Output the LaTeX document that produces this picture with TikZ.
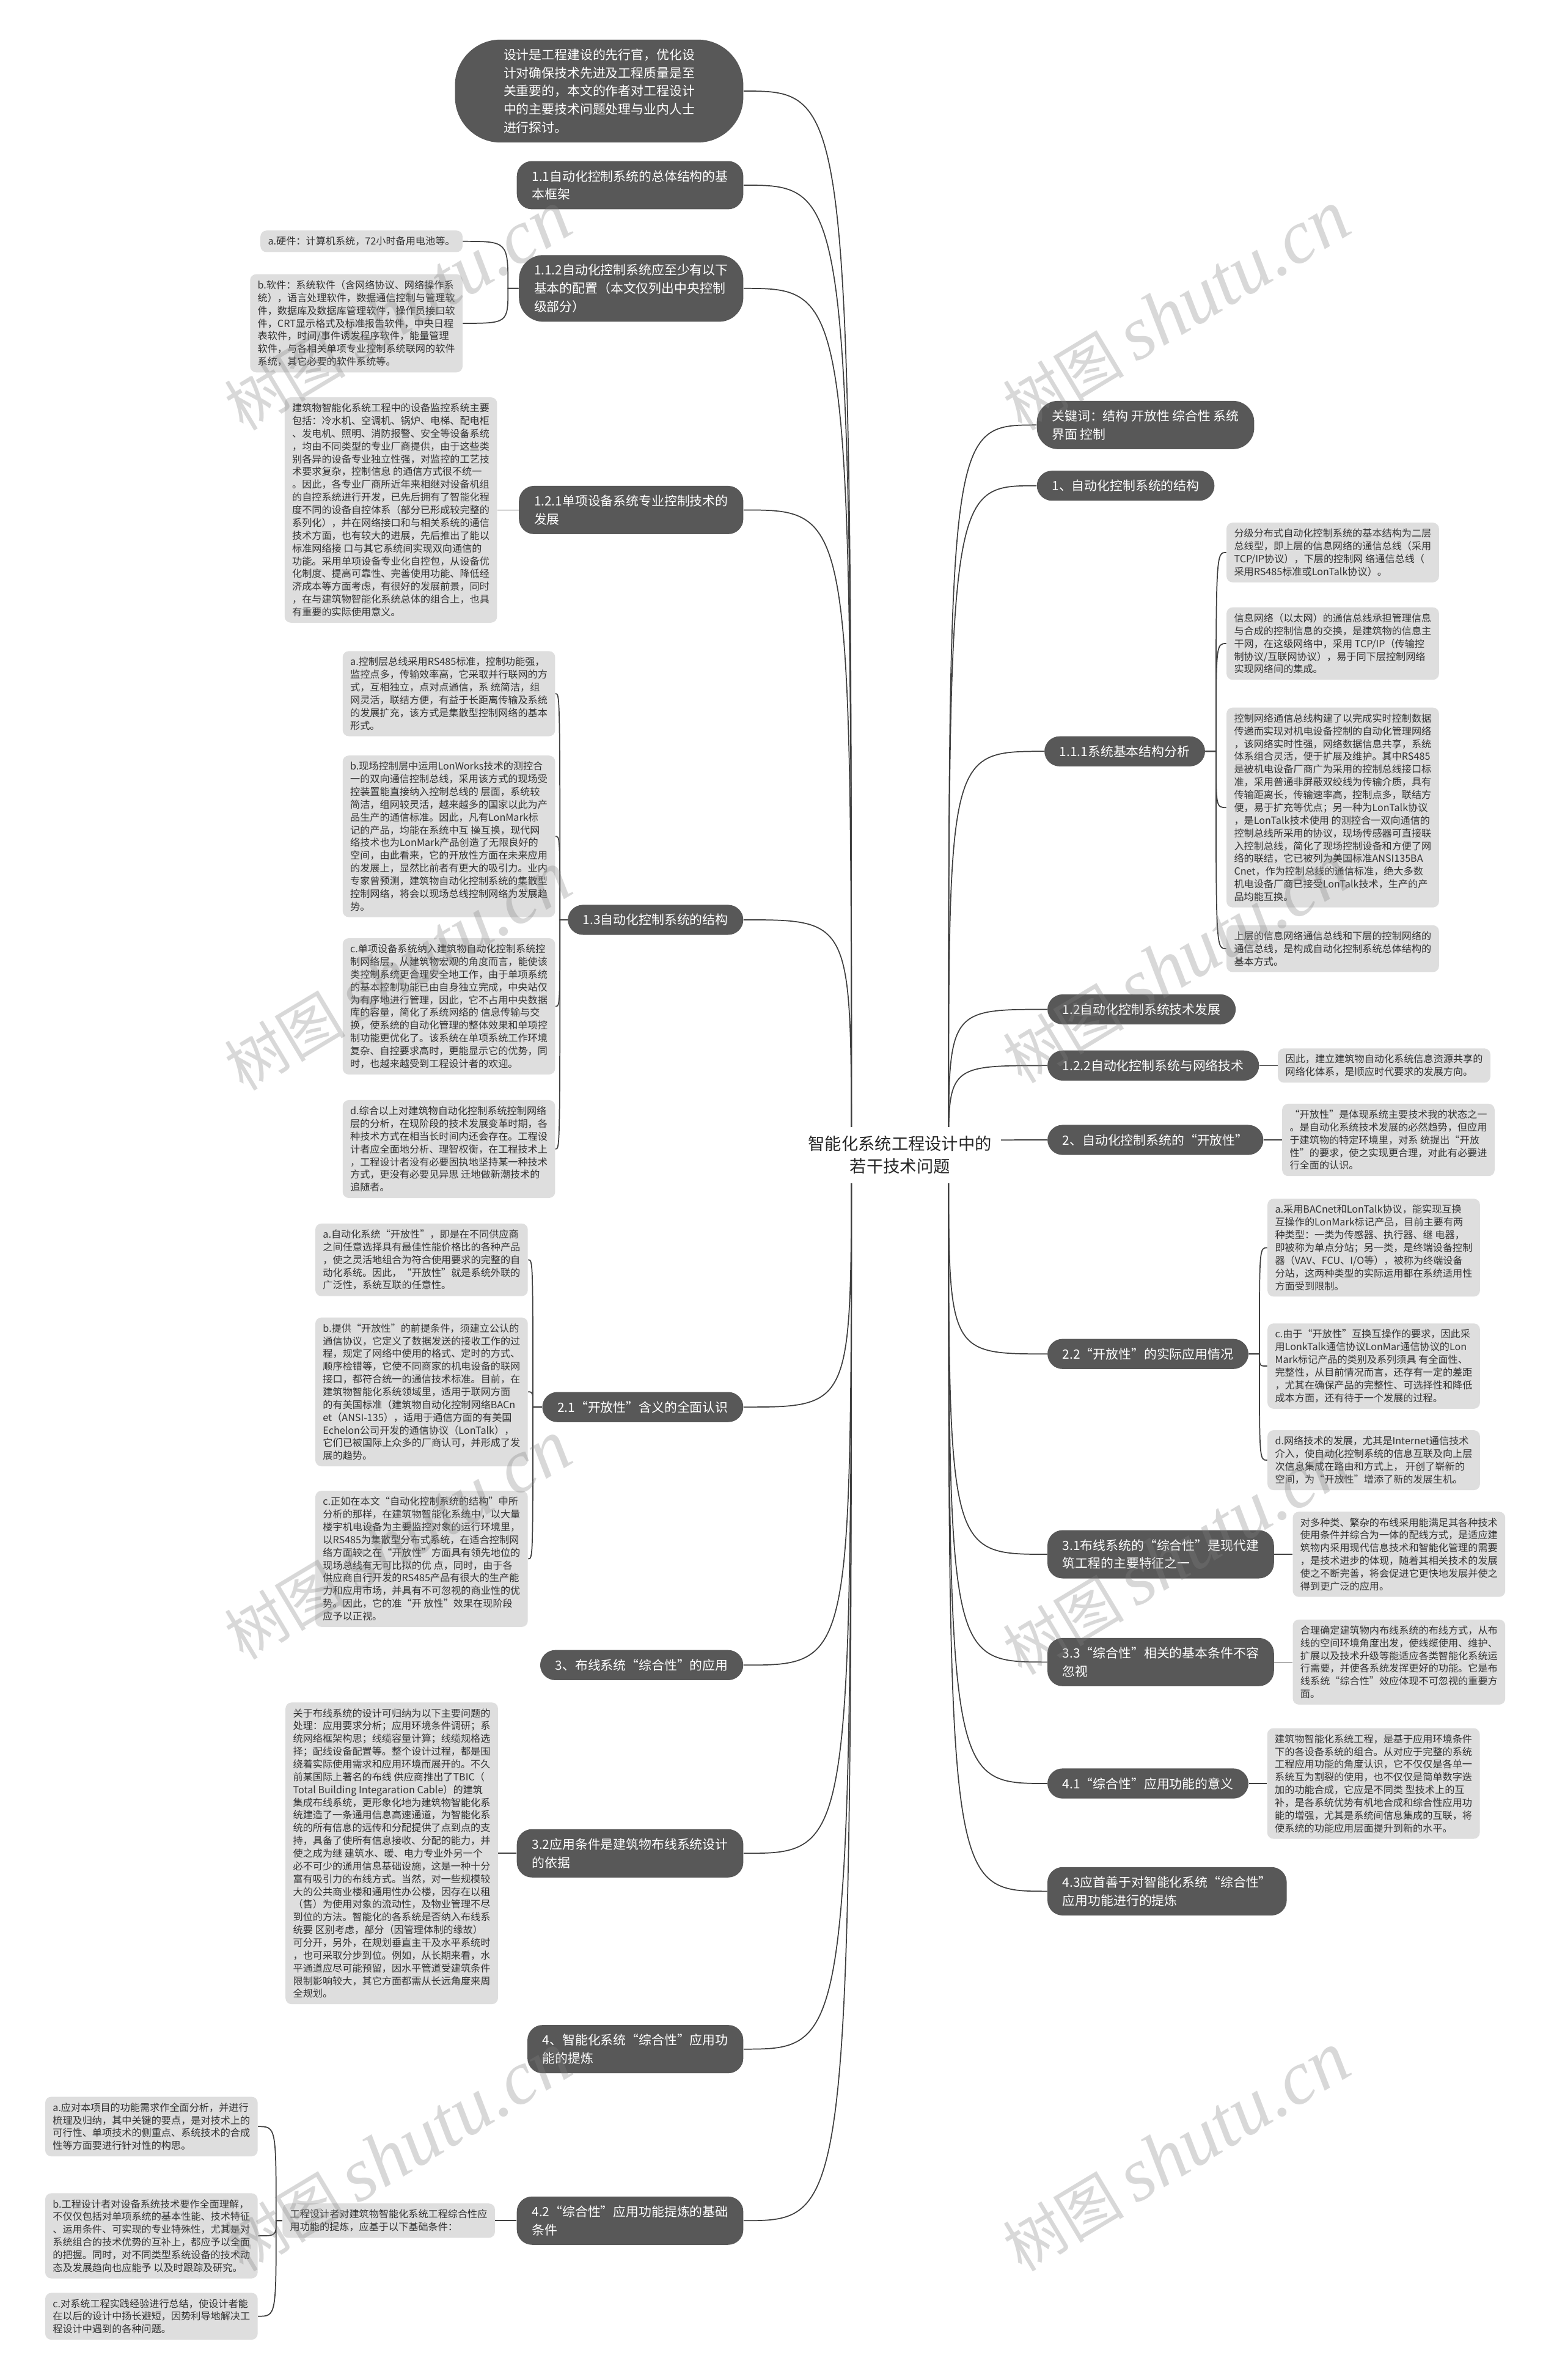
\documentclass[tikz,border=0pt]{standalone}
\usepackage{fontspec}
\setmainfont{Noto Sans CJK SC}
\newfontfamily\wmserif{Liberation Serif}
\usetikzlibrary{positioning,backgrounds}

\definecolor{mainfill}{RGB}{88,88,88}
\definecolor{leaffill}{RGB}{222,222,222}
\definecolor{leaftext}{RGB}{51,51,51}
\definecolor{conncol}{RGB}{64,64,64}

\tikzset{
  rootbox/.style={fill=white, text=black!85, align=center, inner sep=6pt,
    font=\fontsize{11pt}{15pt}\selectfont},
  mainbox/.style={fill=mainfill, text=white, rounded corners=10pt, inner xsep=10pt,
    inner ysep=6pt, align=left, font=\fontsize{8.4pt}{12pt}\selectfont},
  leafbox/.style={fill=leaffill, text=leaftext, rounded corners=4pt, inner xsep=5pt,
    inner ysep=4pt, align=left, font=\fontsize{6.5pt}{8.4pt}\selectfont},
  conn/.style={draw=conncol, line width=0.7pt},
  wmark/.style={text=gray, opacity=0.3, rotate=31}
}

\begin{document}
\begin{tikzpicture}[x=1pt, y=-1pt]
  \path[use as bounding box] (0,0) rectangle (1031,1568);

  % centre
  \node[rootbox] (root) at (593,761) {智能化系统工程设计中的\\若干技术问题};
  \coordinate (rl) at ([xshift=-32pt]root.center);
  \coordinate (rr) at ([xshift=32pt]root.center);

  % left main branches
  \node[mainbox, anchor=east, inner xsep=32pt, rounded corners=30pt] (intro) at (490,60)
    {设计是工程建设的先行官，优化设\\计对确保技术先进及工程质量是至\\关重要的，本文的作者对工程设计\\中的主要技术问题处理与业内人士\\进行探讨。};
  \node[mainbox, anchor=east] (n11) at (490,122) {1.1自动化控制系统的总体结构的基\\本框架};
  \node[mainbox, anchor=east, rounded corners=16pt] (n112) at (490,190)
    {1.1.2自动化控制系统应至少有以下\\基本的配置（本文仅列出中央控制\\级部分）};
  \node[mainbox, anchor=east] (n121) at (490,336) {1.2.1单项设备系统专业控制技术的\\发展};
  \node[mainbox, anchor=east] (n13) at (490,606) {1.3自动化控制系统的结构};
  \node[mainbox, anchor=east] (n21) at (490,927) {2.1“开放性”含义的全面认识};
  \node[mainbox, anchor=east] (n3) at (490,1097) {3、布线系统“综合性”的应用};
  \node[mainbox, anchor=east] (n32) at (490,1221) {3.2应用条件是建筑物布线系统设计\\的依据};
  \node[mainbox, anchor=east] (n4) at (490,1350) {4、智能化系统“综合性”应用功\\能的提炼};
  \node[mainbox, anchor=east] (n42) at (490,1463) {4.2“综合性”应用功能提炼的基础\\条件};

  % right main branches
  \node[mainbox, anchor=west, rounded corners=14pt] (kw) at (683,280) {关键词：结构 开放性 综合性 系统\\界面 控制};
  \node[mainbox, anchor=west] (n1) at (683,320) {1、自动化控制系统的结构};
  \node[mainbox, anchor=west] (n111) at (688,495) {1.1.1系统基本结构分析};
  \node[mainbox, anchor=west] (n12) at (690,665) {1.2自动化控制系统技术发展};
  \node[mainbox, anchor=west] (n122) at (690,702) {1.2.2自动化控制系统与网络技术};
  \node[mainbox, anchor=west] (n2) at (690,751) {2、自动化控制系统的“开放性”};
  \node[mainbox, anchor=west] (n22) at (690,892) {2.2“开放性”的实际应用情况};
  \node[mainbox, anchor=west] (n31) at (690,1024) {3.1布线系统的“综合性”是现代建\\筑工程的主要特征之一};
  \node[mainbox, anchor=west] (n33) at (690,1095) {3.3“综合性”相关的基本条件不容\\忽视};
  \node[mainbox, anchor=west] (n41) at (690,1175) {4.1“综合性”应用功能的意义};
  \node[mainbox, anchor=west] (n43) at (690,1246) {4.3应首善于对智能化系统“综合性”\\应用功能进行的提炼};

  % leaves of 1.1.2
  \node[leafbox, anchor=east] (l112a) at (305,159) {a.硬件：计算机系统，72小时备用电池等。};
  \node[leafbox, anchor=east] (l112b) at (305,213)
    {b.软件：系统软件（含网络协议、网络操作系\\统），语言处理软件，数据通信控制与管理软\\件，数据库及数据库管理软件，操作员接口软\\件，CRT显示格式及标准报告软件，中央日程\\表软件，时间/事件诱发程序软件，能量管理\\软件，与各相关单项专业控制系统联网的软件\\系统，其它必要的软件系统等。};

  % leaf of 1.2.1
  \node[leafbox, left=14pt of n121] (l121)
    {建筑物智能化系统工程中的设备监控系统主要\\包括：冷水机、空调机、锅炉、电梯、配电柜\\、发电机、照明、消防报警、安全等设备系统\\，均由不同类型的专业厂商提供，由于这些类\\别各异的设备专业独立性强，对监控的工艺技\\术要求复杂，控制信息 的通信方式很不统一\\。因此，各专业厂商所近年来相继对设备机组\\的自控系统进行开发，已先后拥有了智能化程\\度不同的设备自控体系（部分已形成较完整的\\系列化），并在网络接口和与相关系统的通信\\技术方面，也有较大的进展，先后推出了能以\\标准网络接 口与其它系统间实现双向通信的\\功能。采用单项设备专业化自控包，从设备优\\化制度、提高可靠性、完善使用功能、降低经\\济成本等方面考虑，有很好的发展前景，同时\\，在与建筑物智能化系统总体的组合上，也具\\有重要的实际使用意义。};

  % leaves of 1.3
  \node[leafbox, anchor=east] (l13a) at (366,457)
    {a.控制层总线采用RS485标准，控制功能强，\\监控点多，传输效率高，它采取并行联网的方\\式，互相独立，点对点通信，系 统简洁，组\\网灵活，联结方便，有益于长距离传输及系统\\的发展扩充，该方式是集散型控制网络的基本\\形式。};
  \node[leafbox, anchor=east] (l13b) at (366,551)
    {b.现场控制层中运用LonWorks技术的测控合\\一的双向通信控制总线，采用该方式的现场受\\控装置能直接纳入控制总线的 层面，系统较\\简洁，组网较灵活，越来越多的国家以此为产\\品生产的通信标准。因此，凡有LonMark标\\记的产品，均能在系统中互 操互换，现代网\\络技术也为LonMark产品创造了无限良好的\\空间，由此看来，它的开放性方面在未来应用\\的发展上，显然比前者有更大的吸引力。业内\\专家曾预测，建筑物自动化控制系统的集散型\\控制网络，将会以现场总线控制网络为发展趋\\势。};
  \node[leafbox, anchor=east] (l13c) at (366,663)
    {c.单项设备系统纳入建筑物自动化控制系统控\\制网络层，从建筑物宏观的角度而言，能使该\\类控制系统更合理安全地工作，由于单项系统\\的基本控制功能已由自身独立完成，中央站仅\\为有序地进行管理，因此，它不占用中央数据\\库的容量，简化了系统网络的 信息传输与交\\换，使系统的自动化管理的整体效果和单项控\\制功能更优化了。该系统在单项系统工作环境\\复杂、自控要求高时，更能显示它的优势，同\\时，也越来越受到工程设计者的欢迎。};
  \node[leafbox, anchor=east] (l13d) at (366,757)
    {d.综合以上对建筑物自动化控制系统控制网络\\层的分析，在现阶段的技术发展变革时期，各\\种技术方式在相当长时间内还会存在。工程设\\计者应全面地分析、理智权衡，在工程技术上\\，工程设计者没有必要固执地坚持某一种技术\\方式，更没有必要见异思 迁地做新潮技术的\\追随者。};

  % leaves of 2.1
  \node[leafbox, anchor=east] (l21a) at (348,830)
    {a.自动化系统“开放性”，即是在不同供应商\\之间任意选择具有最佳性能价格比的各种产品\\，使之灵活地组合为符合使用要求的完整的自\\动化系统。因此，“开放性”就是系统外联的\\广泛性，系统互联的任意性。};
  \node[leafbox, anchor=east] (l21b) at (348,917)
    {b.提供“开放性”的前提条件，须建立公认的\\通信协议，它定义了数据发送的接收工作的过\\程，规定了网络中使用的格式、定时的方式、\\顺序检错等，它使不同商家的机电设备的联网\\接口，都符合统一的通信技术标准。目前，在\\建筑物智能化系统领域里，适用于联网方面\\的有美国标准（建筑物自动化控制网络BACn\\et（ANSI-135），适用于通信方面的有美国\\Echelon公司开发的通信协议（LonTalk），\\它们已被国际上众多的厂商认可，并形成了发\\展的趋势。};
  \node[leafbox, anchor=east] (l21c) at (348,1027)
    {c.正如在本文“自动化控制系统的结构”中所\\分析的那样，在建筑物智能化系统中，以大量\\楼宇机电设备为主要监控对象的运行环境里，\\以RS485为集散型分布式系统，在适合控制网\\络方面较之在“开放性”方面具有领先地位的\\现场总线有无可比拟的优 点，同时，由于各\\供应商自行开发的RS485产品有很大的生产能\\力和应用市场，并具有不可忽视的商业性的优\\势。因此，它的准“开 放性”效果在现阶段\\应予以正视。};

  % leaf of 3.2
  \node[leafbox, left=12pt of n32] (l32)
    {关于布线系统的设计可归纳为以下主要问题的\\处理：应用要求分析；应用环境条件调研；系\\统网络框架构思；线缆容量计算；线缆规格选\\择；配线设备配置等。整个设计过程，都是围\\绕着实际使用需求和应用环境而展开的。不久\\前某国际上著名的布线 供应商推出了TBIC（\\Total Building Integaration Cable）的建筑\\集成布线系统，更形象化地为建筑物智能化系\\统建造了一条通用信息高速通道，为智能化系\\统的所有信息的远传和分配提供了点到点的支\\持，具备了使所有信息接收、分配的能力，并\\使之成为继 建筑水、暖、电力专业外另一个\\必不可少的通用信息基础设施，这是一种十分\\富有吸引力的布线方式。当然，对一些规模较\\大的公共商业楼和通用性办公楼，因存在以租\\（售）为使用对象的流动性，及物业管理不尽\\到位的方法。智能化的各系统是否纳入布线系\\统要 区别考虑，部分（因管理体制的缘故）\\可分开，另外，在规划垂直主干及水平系统时\\，也可采取分步到位。例如，从长期来看，水\\平通道应尽可能预留，因水平管道受建筑条件\\限制影响较大，其它方面都需从长远角度来周\\全规划。};

  % leaves of 4.2
  \node[leafbox, left=14pt of n42] (l42)
    {工程设计者对建筑物智能化系统工程综合性应\\用功能的提炼，应基于以下基础条件：};
  \node[leafbox, anchor=east] (l42a) at (170,1401)
    {a.应对本项目的功能需求作全面分析，并进行\\梳理及归纳，其中关键的要点，是对技术上的\\可行性、单项技术的侧重点、系统技术的合成\\性等方面要进行针对性的构思。};
  \node[leafbox, anchor=east] (l42b) at (170,1473)
    {b.工程设计者对设备系统技术要作全面理解，\\不仅仅包括对单项系统的基本性能、技术特征\\、运用条件、可实现的专业特殊性，尤其是对\\系统组合的技术优势的互补上，都应予以全面\\的把握。同时，对不同类型系统设备的技术动\\态及发展趋向也应能予 以及时跟踪及研究。};
  \node[leafbox, anchor=east] (l42c) at (170,1526)
    {c.对系统工程实践经验进行总结，使设计者能\\在以后的设计中扬长避短，因势利导地解决工\\程设计中遇到的各种问题。};

  % leaves of 1.1.1
  \node[leafbox, anchor=west] (l111a) at (808,364)
    {分级分布式自动化控制系统的基本结构为二层\\总线型，即上层的信息网络的通信总线（采用\\TCP/IP协议），下层的控制网 络通信总线（\\采用RS485标准或LonTalk协议）。};
  \node[leafbox, anchor=west] (l111b) at (808,424)
    {信息网络（以太网）的通信总线承担管理信息\\与合成的控制信息的交换，是建筑物的信息主\\干网，在这级网络中，采用 TCP/IP（传输控\\制协议/互联网协议），易于同下层控制网络\\实现网络间的集成。};
  \node[leafbox, anchor=west] (l111c) at (808,532)
    {控制网络通信总线构建了以完成实时控制数据\\传递而实现对机电设备控制的自动化管理网络\\，该网络实时性强，网络数据信息共享，系统\\体系组合灵活，便于扩展及维护。其中RS485\\是被机电设备厂商广为采用的控制总线接口标\\准，采用普通非屏蔽双绞线为传输介质，具有\\传输距离长，传输速率高，控制点多，联结方\\便，易于扩充等优点；另一种为LonTalk协议\\，是LonTalk技术使用 的测控合一双向通信的\\控制总线所采用的协议，现场传感器可直接联\\入控制总线，简化了现场控制设备和方便了网\\络的联结，它已被列为美国标准ANSI135BA\\Cnet，作为控制总线的通信标准，绝大多数\\机电设备厂商已接受LonTalk技术，生产的产\\品均能互换。};
  \node[leafbox, anchor=west] (l111d) at (808,625)
    {上层的信息网络通信总线和下层的控制网络的\\通信总线，是构成自动化控制系统总体结构的\\基本方式。};

  % single leaves on the right
  \node[leafbox, right=12pt of n122] (l122)
    {因此，建立建筑物自动化系统信息资源共享的\\网络化体系，是顺应时代要求的发展方向。};
  \node[leafbox, right=12pt of n2] (l2)
    {“开放性”是体现系统主要技术我的状态之一\\。是自动化系统技术发展的必然趋势，但应用\\于建筑物的特定环境里，对系 统提出“开放\\性”的要求，使之实现更合理，对此有必要进\\行全面的认识。};

  % leaves of 2.2
  \node[leafbox, anchor=west] (l22a) at (835,822)
    {a.采用BACnet和LonTalk协议，能实现互换\\互操作的LonMark标记产品，目前主要有两\\种类型：一类为传感器、执行器、继 电器，\\即被称为单点分站；另一类，是终端设备控制\\器（VAV、FCU、I/O等），被称为终端设备\\分站，这两种类型的实际运用都在系统适用性\\方面受到限制。};
  \node[leafbox, anchor=west] (l22c) at (835,900)
    {c.由于“开放性”互换互操作的要求，因此采\\用LonkTalk通信协议LonMar通信协议的Lon\\Mark标记产品的类别及系列须具 有全面性、\\完整性，从目前情况而言，还存有一定的差距\\，尤其在确保产品的完整性、可选择性和降低\\成本方面，还有待于一个发展的过程。};
  \node[leafbox, anchor=west] (l22d) at (835,962)
    {d.网络技术的发展，尤其是Internet通信技术\\介入，使自动化控制系统的信息互联及向上层\\次信息集成在路由和方式上， 开创了崭新的\\空间，为“开放性”增添了新的发展生机。};

  \node[leafbox, right=12pt of n31] (l31)
    {对多种类、繁杂的布线采用能满足其各种技术\\使用条件并综合为一体的配线方式，是适应建\\筑物内采用现代信息技术和智能化管理的需要\\，是技术进步的体现，随着其相关技术的发展\\使之不断完善，将会促进它更快地发展并使之\\得到更广泛的应用。};
  \node[leafbox, right=12pt of n33] (l33)
    {合理确定建筑物内布线系统的布线方式，从布\\线的空间环境角度出发，使线缆使用、维护、\\扩展以及技术升级等能适应各类智能化系统运\\行需要，并使各系统发挥更好的功能。它是布\\线系统“综合性”效应体现不可忽视的重要方\\面。};
  \node[leafbox, right=12pt of n41] (l41)
    {建筑物智能化系统工程，是基于应用环境条件\\下的各设备系统的组合。从对应于完整的系统\\工程应用功能的角度认识，它不仅仅是各单一\\系统互为割裂的使用，也不仅仅是简单数字迭\\加的功能合成，它应是不同类 型技术上的互\\补，是各系统优势有机地合成和综合性应用功\\能的增强，尤其是系统间信息集成的互联，将\\使系统的功能应用层面提升到新的水平。};

  % brace joints
  \coordinate (j112) at ([xshift=-7pt]n112.west);
  \coordinate (j13) at ([xshift=-5pt]n13.west);
  \coordinate (j21) at ([xshift=-6pt]n21.west);
  \coordinate (j42) at ([xshift=-4pt]l42.west);
  \coordinate (j111) at ([xshift=7pt]n111.east);
  \coordinate (j22) at ([xshift=7pt]n22.east);

  % connectors
  \begin{scope}[on background layer]
    \fill[white] (0,0) rectangle (1031,1568);
    \foreach \n in {intro,n11,n112,n121,n13,n21,n3,n32,n4,n42}
      \draw[conn] (rl) .. controls (rl |- \n.east) .. (\n.east);
    \foreach \n in {kw,n1,n111,n12,n122,n2,n22,n31,n33,n41,n43}
      \draw[conn] (rr) .. controls (rr |- \n.west) .. (\n.west);
    \foreach \l in {l112a,l112b}
      \draw[conn] (n112.west) -- (j112) .. controls (j112 |- \l.east) .. (\l.east);
    \foreach \l in {l13a,l13b,l13c,l13d}
      \draw[conn] (n13.west) -- (j13) .. controls (j13 |- \l.east) .. (\l.east);
    \foreach \l in {l21a,l21b,l21c}
      \draw[conn] (n21.west) -- (j21) .. controls (j21 |- \l.east) .. (\l.east);
    \foreach \l in {l42a,l42b,l42c}
      \draw[conn] (l42.west) -- (j42) .. controls (j42 |- \l.east) .. (\l.east);
    \foreach \l in {l111a,l111b,l111c,l111d}
      \draw[conn] (n111.east) -- (j111) .. controls (j111 |- \l.west) .. (\l.west);
    \foreach \l in {l22a,l22c,l22d}
      \draw[conn] (n22.east) -- (j22) .. controls (j22 |- \l.west) .. (\l.west);
    \draw[conn] (n121.west) -- (l121.east);
    \draw[conn] (n32.west) -- (l32.east);
    \draw[conn] (n42.west) -- (l42.east);
    \draw[conn] (n122.east) -- (l122.west);
    \draw[conn] (n2.east) -- (l2.west);
    \draw[conn] (n31.east) -- (l31.west);
    \draw[conn] (n33.east) -- (l33.west);
    \draw[conn] (n41.east) -- (l41.west);
  \end{scope}

  % watermark
  \foreach \x/\y in {262/205, 775/205, 262/640, 775/635, 262/1015, 775/1025, 262/1418, 775/1418}
    \node[wmark] at (\x,\y) {\fontsize{40pt}{40pt}\selectfont 树图\hspace{8pt}{\wmserif\itshape\fontsize{50pt}{50pt}\selectfont shutu.cn}};
\end{tikzpicture}
\end{document}
